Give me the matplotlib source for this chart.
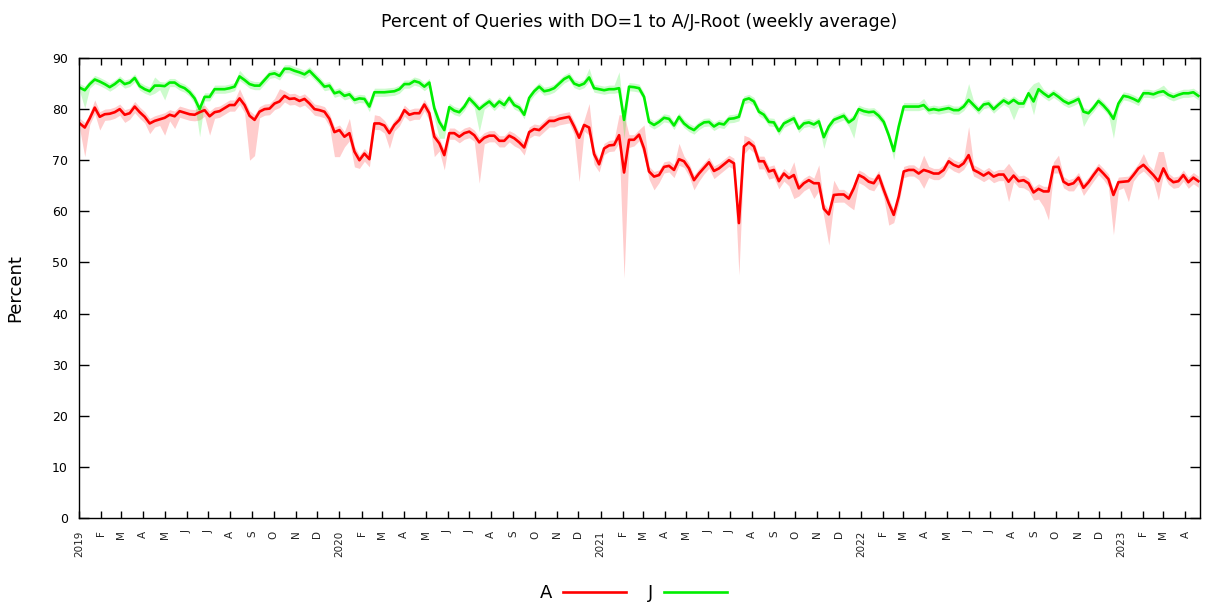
import pandas as pd
import matplotlib
matplotlib.use("Agg")
import matplotlib.pyplot as plt

# weekly averages
start = "2019-01-02"
n_weeks = 225

A = [77.2, 76.4, 78.2, 80.3, 78.5, 79.0, 79.1, 79.4, 80.0, 78.9, 79.2, 80.5, 79.4, 78.5, 77.2,
     77.7, 78.0, 78.3, 78.9, 78.6, 79.6, 79.3, 79.0, 78.9, 79.4, 79.8, 78.6, 79.4, 79.6, 80.2,
     80.8, 80.8, 82.1, 80.8, 78.7, 77.9, 79.5, 80.0, 80.1, 81.1, 81.5, 82.6, 82.0, 82.1, 81.6,
     82.0, 81.1, 80.0, 79.8, 79.5, 78.1, 75.5, 75.9, 74.6, 75.3, 71.7, 70.0, 71.3, 70.2, 77.2,
     77.2, 76.8, 75.3, 76.9, 77.9, 79.8, 78.9, 79.2, 79.2, 80.9, 79.2, 74.6, 73.3, 71.0, 75.3,
     75.3, 74.6, 75.3, 75.6, 74.9, 73.5, 74.4, 74.8, 74.8, 73.8, 73.8, 74.8, 74.3, 73.5, 72.5,
     75.5, 76.1, 75.9, 76.8, 77.7, 77.7, 78.1, 78.3, 78.5, 76.6, 74.4, 76.9, 76.4, 71.2, 69.2,
     72.3, 72.9, 73.0, 74.9, 67.6, 74.0, 74.0, 75.0, 72.3, 67.8, 66.8, 67.1, 68.7, 68.9, 68.1,
     70.2, 69.8, 68.4, 66.1, 67.4, 68.5, 69.6, 67.9, 68.4, 69.2, 70.0, 69.4, 57.7, 72.7, 73.5,
     72.7, 69.8, 69.8, 67.8, 68.1, 65.9, 67.4, 66.5, 67.1, 64.5, 65.5, 66.1, 65.5, 65.5, 60.5,
     59.4, 63.2, 63.3, 63.3, 62.5, 64.5, 67.1, 66.6, 65.8, 65.5, 67.0, 64.2, 61.6, 59.3, 62.9,
     67.8, 68.1, 68.1, 67.4, 68.1, 67.8, 67.4, 67.4, 68.1, 69.8, 69.1, 68.7, 69.4, 71.0, 68.1,
     67.6, 67.0, 67.6, 66.8, 67.2, 67.2, 65.8, 67.0, 65.9, 66.1, 65.5, 63.7, 64.4, 63.9, 63.9,
     68.7, 68.7, 65.8, 65.2, 65.5, 66.6, 64.6, 65.7, 67.1, 68.4, 67.4, 66.3, 63.2, 65.7, 65.8,
     65.9, 67.1, 68.4, 69.1, 68.1, 67.1, 65.9, 68.4, 66.5, 65.7, 65.9, 67.1, 65.7, 66.6, 65.9]

J = [84.2, 83.7, 84.9, 85.8, 85.4, 84.9, 84.3, 84.9, 85.7, 84.9, 85.2, 86.1, 84.5, 83.9, 83.5,
     84.6, 84.6, 84.5, 85.2, 85.2, 84.5, 84.1, 83.3, 82.1, 80.0, 82.4, 82.4, 83.9, 83.9, 83.9,
     84.1, 84.4, 86.4, 85.7, 84.9, 84.6, 84.6, 85.7, 86.8, 87.0, 86.5, 87.9, 87.9, 87.5, 87.2,
     86.8, 87.5, 86.5, 85.5, 84.4, 84.6, 83.1, 83.4, 82.6, 82.9, 81.8, 82.1, 82.0, 80.5, 83.3,
     83.3, 83.3, 83.4, 83.5, 83.9, 84.9, 84.9, 85.5, 85.2, 84.4, 85.2, 80.2, 77.5, 75.9, 80.4,
     79.7, 79.4, 80.5, 82.1, 81.1, 80.0, 80.8, 81.5, 80.5, 81.5, 80.8, 82.2, 80.8, 80.3, 78.9,
     82.2, 83.5, 84.4, 83.5, 83.7, 84.1, 85.0, 85.9, 86.4, 85.0, 84.6, 85.0, 86.2, 84.1, 83.9,
     83.7, 83.9, 83.9, 84.1, 77.9, 84.4, 84.3, 84.1, 82.4, 77.5, 76.9, 77.5, 78.3, 78.1, 76.8,
     78.5, 77.2, 76.4, 75.9, 76.8, 77.4, 77.5, 76.6, 77.2, 77.0, 78.1, 78.2, 78.5, 81.8, 82.1,
     81.5, 79.5, 78.9, 77.5, 77.4, 75.7, 77.2, 77.7, 78.2, 76.2, 77.2, 77.4, 77.0, 77.6, 74.5,
     76.6, 77.9, 78.3, 78.7, 77.4, 78.1, 80.0, 79.6, 79.4, 79.5, 78.7, 77.5, 74.9, 71.8, 76.6,
     80.5, 80.5, 80.5, 80.5, 80.8, 79.8, 80.0, 79.8, 80.0, 80.2, 79.8, 79.8, 80.5, 81.8, 80.8,
     79.8, 80.9, 81.1, 80.0, 80.9, 81.7, 81.1, 81.8, 81.1, 81.1, 83.1, 81.5, 83.9, 83.1, 82.4,
     83.1, 82.4, 81.6, 81.1, 81.5, 82.0, 79.5, 79.2, 80.3, 81.6, 80.7, 79.6, 78.1, 81.1, 82.6,
     82.4, 82.0, 81.5, 83.1, 83.1, 82.9, 83.3, 83.5, 82.8, 82.4, 82.8, 83.1, 83.1, 83.3, 82.6]

# spread of the daily values around each weekly average (below / above)
A_dn = [1.2, 5.7, 1.2, 1.2, 2.6, 1.2, 1.2, 1.2, 1.2, 1.5, 1.2, 1.2, 1.2, 1.2, 2.0,
        1.2, 1.2, 3.4, 1.2, 2.4, 1.2, 1.2, 1.2, 1.2, 1.5, 1.2, 3.7, 1.2, 1.2, 1.2,
        1.2, 1.2, 1.2, 1.5, 8.7, 7.0, 1.2, 1.2, 1.2, 1.2, 1.2, 1.2, 1.2, 1.2, 1.2,
        1.2, 1.2, 1.2, 1.2, 1.2, 1.5, 4.8, 5.2, 2.0, 1.5, 3.0, 1.6, 1.5, 1.5, 1.2,
        1.2, 1.5, 3.0, 1.2, 1.2, 1.2, 1.2, 1.2, 1.2, 1.2, 1.5, 3.9, 1.5, 2.9, 1.2,
        1.2, 1.2, 1.2, 1.2, 1.2, 8.0, 1.2, 1.2, 1.2, 1.2, 1.2, 1.2, 1.5, 1.2, 1.5,
        1.2, 1.2, 1.2, 1.2, 1.2, 1.2, 1.2, 1.2, 1.2, 1.5, 8.6, 1.2, 1.5, 2.0, 1.5,
        1.2, 1.2, 1.2, 1.5, 20.7, 1.5, 1.2, 1.2, 1.5, 1.5, 2.6, 1.5, 1.2, 1.2, 1.5,
        1.2, 1.2, 1.5, 1.9, 1.5, 1.2, 1.2, 1.5, 1.2, 1.2, 1.2, 1.2, 10.2, 1.5, 1.2,
        1.2, 1.5, 1.5, 1.5, 1.5, 1.5, 1.5, 1.5, 4.6, 1.5, 1.5, 1.5, 3.0, 1.5, 1.5,
        6.0, 1.5, 1.5, 1.5, 1.5, 4.2, 1.5, 1.5, 1.5, 1.5, 1.5, 1.5, 4.3, 1.5, 1.5,
        1.2, 1.2, 1.2, 1.2, 3.6, 1.2, 1.2, 1.2, 1.2, 1.2, 1.2, 1.2, 1.2, 1.2, 1.2,
        1.2, 1.2, 1.2, 1.2, 1.2, 1.2, 3.9, 1.2, 1.2, 1.5, 1.5, 1.5, 2.0, 3.0, 5.6,
        1.2, 1.2, 1.2, 1.2, 1.5, 1.2, 1.5, 1.2, 1.2, 1.2, 1.2, 1.5, 7.8, 1.5, 1.2,
        4.0, 1.2, 1.2, 1.2, 1.2, 1.2, 3.7, 1.2, 1.2, 1.2, 1.2, 1.2, 1.2, 1.2, 1.2]

A_up = [1.0, 1.0, 1.0, 1.5, 1.0, 1.0, 1.0, 1.0, 1.0, 1.0, 1.0, 1.0, 1.0, 1.0, 1.0,
        1.0, 1.0, 1.0, 1.0, 1.0, 1.0, 1.0, 1.0, 1.0, 1.0, 1.0, 1.0, 1.0, 1.0, 1.0,
        1.0, 1.0, 1.9, 1.0, 1.0, 1.0, 1.0, 1.0, 1.0, 1.0, 2.5, 1.0, 1.0, 1.0, 1.0,
        1.0, 1.0, 1.0, 1.0, 1.0, 1.0, 1.0, 1.0, 1.0, 2.9, 1.0, 1.0, 1.0, 1.0, 1.7,
        1.5, 1.0, 1.0, 1.0, 1.0, 1.0, 1.0, 1.0, 1.0, 1.0, 1.0, 1.0, 1.0, 1.0, 1.0,
        1.0, 1.0, 1.0, 1.0, 1.0, 1.0, 1.0, 1.0, 1.0, 1.0, 1.0, 1.0, 1.0, 1.0, 1.0,
        1.0, 1.0, 1.0, 1.0, 1.0, 1.0, 1.0, 1.0, 1.0, 1.0, 1.0, 1.0, 4.7, 1.0, 1.0,
        1.0, 1.0, 1.0, 4.0, 11.3, 1.0, 1.0, 1.0, 4.6, 1.0, 1.0, 1.0, 1.0, 1.0, 1.0,
        3.1, 1.0, 1.0, 1.0, 1.0, 1.0, 1.0, 1.0, 1.0, 1.0, 1.0, 1.0, 1.0, 2.2, 1.0,
        1.0, 1.0, 1.0, 1.0, 1.0, 1.0, 1.0, 1.0, 2.6, 1.0, 1.0, 1.0, 1.0, 3.6, 1.0,
        1.0, 2.9, 1.0, 1.0, 1.0, 1.0, 1.0, 1.0, 1.0, 1.0, 1.0, 1.0, 1.0, 1.0, 1.0,
        1.0, 1.0, 1.0, 1.0, 2.9, 1.0, 1.0, 1.0, 1.0, 1.0, 1.0, 1.0, 1.0, 5.6, 1.0,
        1.0, 1.0, 1.0, 1.0, 1.0, 1.0, 3.6, 1.0, 1.0, 1.0, 1.0, 1.0, 1.0, 1.0, 1.0,
        1.0, 2.3, 1.0, 1.0, 1.0, 1.0, 1.0, 1.0, 1.0, 1.0, 1.0, 1.0, 1.0, 1.0, 1.0,
        1.0, 1.0, 1.0, 2.2, 1.0, 1.0, 5.8, 3.3, 1.0, 1.0, 1.0, 1.0, 1.0, 1.0, 1.0]

J_dn = [0.8, 3.5, 0.8, 0.8, 0.8, 0.8, 0.8, 0.8, 0.8, 0.8, 0.8, 0.8, 0.8, 0.8, 0.8,
        1.5, 0.8, 2.7, 0.8, 0.8, 0.8, 0.8, 0.8, 1.0, 5.4, 0.8, 0.8, 0.8, 0.8, 0.8,
        0.8, 0.8, 0.8, 0.8, 0.8, 0.8, 0.8, 0.8, 0.8, 0.8, 0.8, 0.8, 0.8, 0.8, 0.8,
        0.8, 0.8, 0.8, 0.8, 0.8, 0.8, 0.8, 0.8, 0.8, 0.8, 0.8, 0.8, 0.8, 1.0, 0.8,
        0.8, 0.8, 0.8, 0.8, 0.8, 0.8, 0.8, 0.8, 0.8, 0.8, 0.8, 2.0, 3.2, 1.6, 0.8,
        0.8, 0.8, 0.8, 0.8, 0.8, 4.4, 0.8, 0.8, 0.8, 0.8, 0.8, 0.8, 0.8, 0.8, 0.8,
        0.8, 0.8, 0.8, 0.8, 0.8, 0.8, 0.8, 0.8, 0.8, 0.8, 0.8, 0.8, 0.8, 0.8, 0.8,
        0.8, 0.8, 0.8, 0.8, 3.6, 0.8, 0.8, 0.8, 0.8, 0.8, 0.8, 0.8, 0.8, 0.8, 0.8,
        0.8, 0.8, 0.8, 0.8, 0.8, 0.8, 0.8, 0.8, 0.8, 0.8, 0.8, 0.8, 0.8, 0.8, 0.8,
        0.8, 0.8, 0.8, 0.8, 0.8, 0.8, 0.8, 0.8, 0.8, 0.8, 0.8, 0.8, 0.8, 0.8, 2.2,
        0.8, 0.8, 0.8, 0.8, 0.8, 3.8, 0.8, 0.8, 0.8, 0.8, 0.8, 0.8, 0.8, 1.7, 0.8,
        0.8, 0.8, 0.8, 0.8, 0.8, 0.8, 0.8, 0.8, 0.8, 0.8, 0.8, 0.8, 0.8, 0.8, 0.8,
        0.8, 0.8, 0.8, 0.8, 0.8, 0.8, 0.8, 3.9, 0.8, 0.8, 0.8, 2.6, 0.8, 0.8, 0.8,
        0.8, 0.8, 0.8, 0.8, 0.8, 0.8, 2.9, 0.8, 0.8, 0.8, 0.8, 0.8, 3.8, 0.8, 0.8,
        0.8, 0.8, 0.8, 0.8, 0.8, 0.8, 0.8, 0.8, 0.8, 0.8, 0.8, 0.8, 0.8, 0.8, 0.8]

J_up = [0.8, 0.8, 0.8, 0.8, 0.8, 0.8, 0.8, 0.8, 0.8, 0.8, 0.8, 0.8, 0.8, 0.8, 0.8,
        1.7, 0.8, 0.8, 0.8, 0.8, 0.8, 0.8, 0.8, 0.8, 0.8, 0.8, 0.8, 0.8, 0.8, 0.8,
        0.8, 0.8, 1.2, 0.8, 0.8, 0.8, 0.8, 0.8, 0.8, 0.8, 0.8, 0.8, 0.8, 0.8, 0.8,
        0.8, 0.8, 0.8, 0.8, 0.8, 0.8, 0.8, 0.8, 0.8, 0.8, 0.8, 0.8, 0.8, 0.8, 0.8,
        0.8, 0.8, 0.8, 0.8, 0.8, 0.8, 0.8, 0.8, 0.8, 0.8, 0.8, 0.8, 0.8, 0.8, 0.8,
        0.8, 0.8, 0.8, 0.8, 0.8, 0.8, 0.8, 0.8, 0.8, 0.8, 0.8, 0.8, 0.8, 0.8, 0.8,
        0.8, 0.8, 0.8, 0.8, 0.8, 0.8, 0.8, 0.8, 0.8, 0.8, 0.8, 0.8, 1.8, 0.8, 0.8,
        0.8, 0.8, 0.8, 3.2, 0.8, 0.8, 0.8, 0.8, 0.8, 0.8, 0.8, 0.8, 0.8, 0.8, 0.8,
        0.8, 0.8, 0.8, 0.8, 0.8, 0.8, 0.8, 0.8, 0.8, 0.8, 0.8, 0.8, 0.8, 0.8, 0.8,
        0.8, 0.8, 0.8, 0.8, 0.8, 0.8, 0.8, 0.8, 0.8, 0.8, 0.8, 0.8, 0.8, 0.8, 0.8,
        0.8, 0.8, 0.8, 0.8, 0.8, 0.8, 0.8, 0.8, 0.8, 0.8, 0.8, 0.8, 0.8, 0.8, 0.8,
        0.8, 0.8, 0.8, 0.8, 1.3, 0.8, 0.8, 0.8, 0.8, 0.8, 0.8, 0.8, 0.8, 3.2, 0.8,
        0.8, 0.8, 0.8, 0.8, 0.8, 0.8, 0.8, 0.8, 0.8, 0.8, 0.8, 3.5, 1.5, 0.8, 0.8,
        0.8, 0.8, 0.8, 0.8, 0.8, 0.8, 0.8, 0.8, 0.8, 0.8, 0.8, 0.8, 0.8, 0.8, 0.8,
        0.8, 0.8, 0.8, 0.8, 0.8, 0.8, 0.8, 1.2, 0.8, 0.8, 0.8, 0.8, 0.8, 0.8, 0.8]

month_letters = ["J", "F", "M", "A", "M", "J", "J", "A", "S", "O", "N", "D"]

df = pd.DataFrame({"A": A, "J": J, "A_dn": A_dn, "A_up": A_up, "J_dn": J_dn, "J_up": J_up},
                  index=pd.date_range(start, periods=n_weeks, freq="7D"))

fig = plt.figure(figsize=(12.07, 6.14), dpi=100)
ax = fig.add_axes([0.0655, 0.1564, 0.9285, 0.7491])

red = "#ff0000"
green = "#00ee00"

ax.fill_between(df.index, df["A"] - df["A_dn"], df["A"] + df["A_up"],
                color=red, alpha=0.2, linewidth=0)
ax.fill_between(df.index, df["J"] - df["J_dn"], df["J"] + df["J_up"],
                color=green, alpha=0.2, linewidth=0)
ax.plot(df.index, df["A"], color=red, lw=1.9, label="A")
ax.plot(df.index, df["J"], color=green, lw=1.9, label="J")

ax.set_xlim(pd.Timestamp("2019-01-01"), pd.Timestamp("2023-04-21"))
ax.set_ylim(0, 90)
ax.set_yticks(range(0, 91, 10))

months = pd.date_range("2019-01-01", "2023-04-01", freq="MS")
ax.set_xticks(months)
ax.set_xticklabels([str(m.year) if m.month == 1 else month_letters[m.month - 1] for m in months],
                   rotation=90, fontsize=7.5, color="#222222")

ax.tick_params(axis="both", direction="in", top=True, right=True, width=1)
ax.tick_params(axis="y", length=7, labelsize=9, pad=8)
ax.tick_params(axis="x", length=5, pad=9)
for s in ax.spines.values():
    s.set_linewidth(1)

ax.set_ylabel("Percent", fontsize=13, labelpad=20)
ax.set_title("Percent of Queries with DO=1 to A/J-Root (weekly average)", fontsize=12.5, pad=22)

fig.legend(loc="center", bbox_to_anchor=(0.525, 0.034), ncol=2, frameon=False,
           markerfirst=False, fontsize=13, handlelength=3.5, columnspacing=1.2, handletextpad=0.6)

fig.savefig("out.png", dpi=100)
